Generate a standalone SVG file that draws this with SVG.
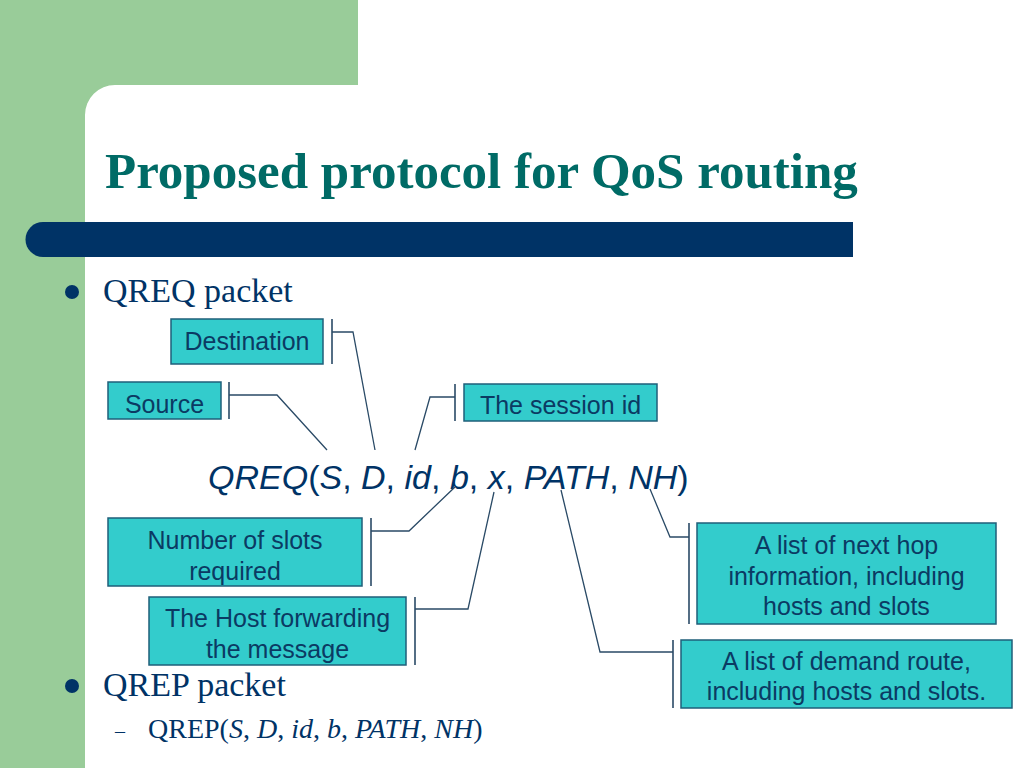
<svg xmlns="http://www.w3.org/2000/svg" width="1024" height="768" viewBox="0 0 1024 768">
<style>
.box{fill:#33CCCC;stroke:#1F5F7A;stroke-width:1.5}
.bt{font-family:"Liberation Sans",Arial,sans-serif;font-size:25px;fill:#0B3A63;text-anchor:middle}
.ln{fill:none;stroke:#2A4A66;stroke-width:1.3}
.br{fill:none;stroke:#2A4A66;stroke-width:1.6}
.tm{font-family:"Liberation Serif","Times New Roman",serif;fill:#003366}
</style>
<rect width="1024" height="768" fill="#FFFFFF"/>
<g id="background">
<path d="M0 0H358V85H115A30 30 0 0 0 85 115V768H0Z" fill="#99CC99"/>
<path d="M43 222H853V257H43A17.5 17.5 0 0 1 43 222Z" fill="#003366"/>
</g>
<text id="title" x="105" y="188" font-family="Liberation Serif,'Times New Roman',serif" font-weight="bold" font-size="51" fill="#006B66">Proposed protocol for QoS routing</text>
<g id="bullets">
<circle cx="72" cy="292" r="7" fill="#003366"/>
<text class="tm" x="103" y="302" font-size="34">QREQ packet</text>
<circle cx="72" cy="686" r="7" fill="#003366"/>
<text class="tm" x="103" y="696" font-size="34">QREP packet</text>
<text class="tm" x="115" y="738" font-size="20">–</text>
<text class="tm" x="148" y="738" font-size="28">QREP(<tspan font-style="italic">S</tspan>, <tspan font-style="italic">D</tspan>, <tspan font-style="italic">id</tspan>, <tspan font-style="italic">b</tspan>, <tspan font-style="italic">PATH</tspan>, <tspan font-style="italic">NH</tspan>)</text>
</g>
<text id="formula" x="208" y="489" font-family="Liberation Sans,Arial,sans-serif" font-size="34" fill="#003366"><tspan font-style="italic">QREQ</tspan>(<tspan font-style="italic">S</tspan>, <tspan font-style="italic">D</tspan>, <tspan font-style="italic">id</tspan>, <tspan font-style="italic">b</tspan>, <tspan font-style="italic">x</tspan>, <tspan font-style="italic">PATH</tspan>, <tspan font-style="italic">NH</tspan>)</text>
<g id="connectors">
<path class="br" d="M332 319V364"/><path class="ln" d="M332 332H353L375 450"/>
<path class="br" d="M229 382V419"/><path class="ln" d="M229 395H277L327 450"/>
<path class="br" d="M455 384V421"/><path class="ln" d="M455 397H430L415 450"/>
<path class="br" d="M371 518V586"/><path class="ln" d="M371 531H409L455 487"/>
<path class="br" d="M415 597V665"/><path class="ln" d="M415 609H468L494 492"/>
<path class="br" d="M689 523V624"/><path class="ln" d="M689 537H670L650 489"/>
<path class="br" d="M673 640V708"/><path class="ln" d="M673 652H600L561 490"/>
</g>
<g id="destination"><rect class="box" x="171" y="319" width="152" height="45"/><text class="bt" x="247" y="350">Destination</text></g>
<g id="source"><rect class="box" x="108" y="382" width="113" height="37"/><text class="bt" x="164.500" y="413">Source</text></g>
<g id="session"><rect class="box" x="464" y="384" width="193" height="37"/><text class="bt" x="560.500" y="414">The session id</text></g>
<g id="slots"><rect class="box" x="108" y="518" width="254" height="68"/><text class="bt" x="235" y="549">Number of slots</text><text class="bt" x="235" y="580">required</text></g>
<g id="host"><rect class="box" x="149" y="597" width="257" height="68"/><text class="bt" x="277.500" y="627">The Host forwarding</text><text class="bt" x="277.500" y="658">the message</text></g>
<g id="nexthop"><rect class="box" x="697" y="523" width="299" height="101"/><text class="bt" x="846.500" y="554">A list of next hop</text><text class="bt" x="846.500" y="585">information, including</text><text class="bt" x="846.500" y="615">hosts and slots</text></g>
<g id="route"><rect class="box" x="681" y="640" width="331" height="68"/><text class="bt" x="846.500" y="670">A list of demand route,</text><text class="bt" x="846.500" y="700">including hosts and slots.</text></g>
</svg>
